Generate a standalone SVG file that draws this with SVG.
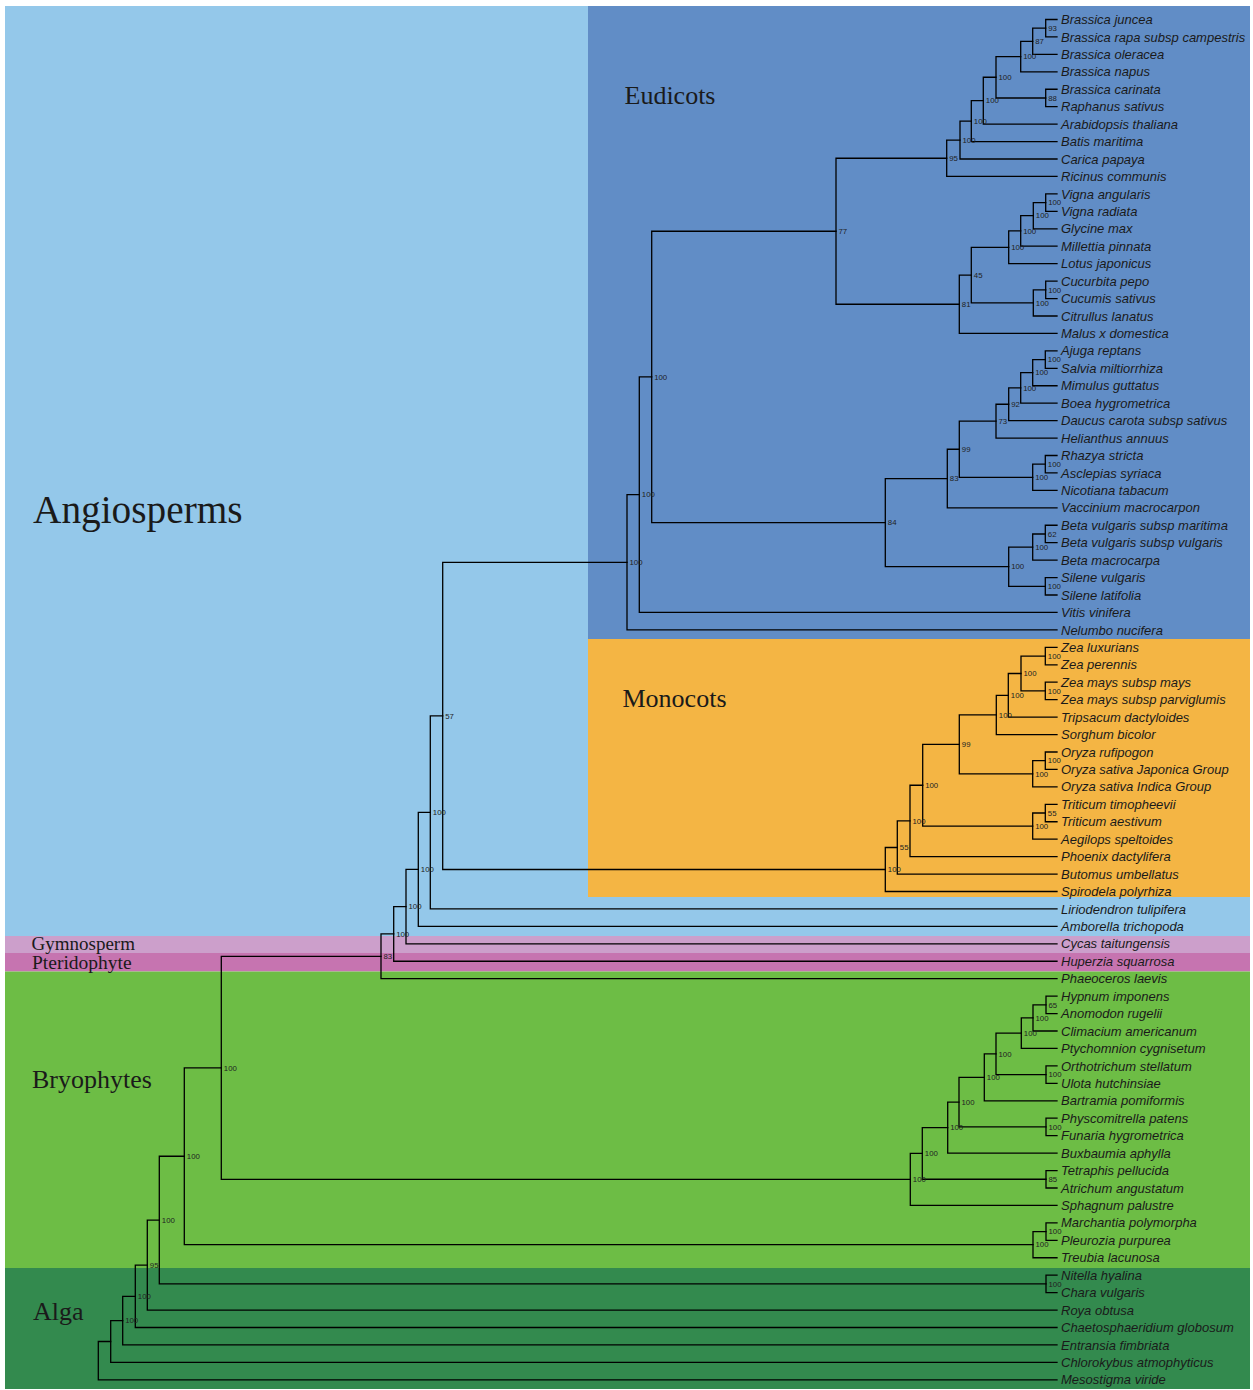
<svg xmlns="http://www.w3.org/2000/svg" width="1253" height="1390" viewBox="0 0 1253 1390">
  <style>
    .br { fill: none; stroke: #000; stroke-width: 1.3; stroke-linecap: square; }
    .taxa text { font-family: "Liberation Sans", Arial, sans-serif; font-style: italic; font-size: 13px; fill: #1a1a1a; }
    .bs text { font-family: "Liberation Sans", Arial, sans-serif; font-size: 7.8px; fill: #222; }
    .grp text { font-family: "Liberation Serif", "Times New Roman", serif; fill: #1a1a1a; }
  </style>
  <rect width="1253" height="1390" fill="#fff"/>

  <!-- clade shading -->
  <g id="clade-bands">
    <rect id="band-angiosperms" x="5" y="6" width="1245" height="930" fill="#94C8EA"/>
    <rect id="band-eudicots" x="588" y="6" width="662" height="633" fill="#618DC6"/>
    <rect id="band-monocots" x="588" y="639" width="662" height="258" fill="#F4B544"/>
    <rect id="band-gymnosperm" x="5" y="936" width="1245" height="17" fill="#CC9FCB"/>
    <rect id="band-pteridophyte" x="5" y="953" width="1245" height="18.5" fill="#C674B0"/>
    <rect id="band-bryophytes" x="5" y="971.5" width="1245" height="296.5" fill="#6DBD45"/>
    <rect id="band-alga" x="5" y="1268" width="1245" height="121" fill="#338A4E"/>
  </g>

  <g class="grp" id="clade-names">
    <text id="name-angiosperms" x="33" y="523" font-size="39.3">Angiosperms</text>
    <text id="name-eudicots" x="624.5" y="104" font-size="26">Eudicots</text>
    <text id="name-monocots" x="622.5" y="706.5" font-size="26">Monocots</text>
    <text id="name-gymnosperm" x="31.5" y="950" font-size="19">Gymnosperm</text>
    <text id="name-pteridophyte" x="32" y="968.5" font-size="19.5">Pteridophyte</text>
    <text id="name-bryophytes" x="32" y="1087.5" font-size="26">Bryophytes</text>
    <text id="name-alga" x="33" y="1320" font-size="26">Alga</text>
  </g>

  <!-- branches: each path joins one internal node to its two children -->
  <g class="br" id="connectors">
    <path d="M1057 19.5H1045.7V36.94H1057"/>
    <path d="M1045.7 28.22H1032.7V54.38H1057"/>
    <path d="M1032.7 41.3H1020.7V71.82H1057"/>
    <path d="M1057 89.26H1045.7V106.7H1057"/>
    <path d="M1020.7 56.56H996V97.98H1045.7"/>
    <path d="M996 77.27H983.3V124.14H1057"/>
    <path d="M983.3 100.71H971.3V141.58H1057"/>
    <path d="M971.3 121.14H960V159.02H1057"/>
    <path d="M960 140.08H946.7V176.46H1057"/>
    <path d="M1057 193.9H1045.7V211.34H1057"/>
    <path d="M1045.7 202.62H1033.3V228.78H1057"/>
    <path d="M1033.3 215.7H1020.7V246.22H1057"/>
    <path d="M1020.7 230.96H1008.7V263.66H1057"/>
    <path d="M1057 281.1H1045.7V298.54H1057"/>
    <path d="M1045.7 289.82H1033.3V315.98H1057"/>
    <path d="M1008.7 247.31H971.3V302.9H1033.3"/>
    <path d="M971.3 275.11H959.3V333.42H1057"/>
    <path d="M946.7 158.27H836V304.26H959.3"/>
    <path d="M1057 350.86H1045.3V368.3H1057"/>
    <path d="M1045.3 359.58H1032.7V385.74H1057"/>
    <path d="M1032.7 372.66H1020.7V403.18H1057"/>
    <path d="M1020.7 387.92H1008.7V420.62H1057"/>
    <path d="M1008.7 404.27H996V438.06H1057"/>
    <path d="M1057 455.5H1045.3V472.94H1057"/>
    <path d="M1045.3 464.22H1032.7V490.38H1057"/>
    <path d="M996 421.17H959.3V477.3H1032.7"/>
    <path d="M959.3 449.24H947.3V507.82H1057"/>
    <path d="M1057 525.26H1045.3V542.7H1057"/>
    <path d="M1045.3 533.98H1032.7V560.14H1057"/>
    <path d="M1057 577.58H1045.3V595.02H1057"/>
    <path d="M1032.7 547.06H1008.7V586.3H1045.3"/>
    <path d="M947.3 478.53H885.3V566.68H1008.7"/>
    <path d="M836 231.27H651.7V522.61H885.3"/>
    <path d="M651.7 376.94H639.3V612.46H1057"/>
    <path d="M639.3 494.7H627V629.9H1057"/>
    <path d="M1057 647.34H1045.3V664.78H1057"/>
    <path d="M1057 682.22H1045.3V699.66H1057"/>
    <path d="M1045.3 656.06H1021V690.94H1045.3"/>
    <path d="M1021 673.5H1008.3V717.1H1057"/>
    <path d="M1008.3 695.3H996.3V734.54H1057"/>
    <path d="M1057 751.98H1045.3V769.42H1057"/>
    <path d="M1045.3 760.7H1032.7V786.86H1057"/>
    <path d="M996.3 714.92H959.3V773.78H1032.7"/>
    <path d="M1057 804.3H1045.3V821.74H1057"/>
    <path d="M1045.3 813.02H1032.7V839.18H1057"/>
    <path d="M959.3 744.35H922.7V826.1H1032.7"/>
    <path d="M922.7 785.23H910V856.62H1057"/>
    <path d="M910 820.92H897.3V874.06H1057"/>
    <path d="M897.3 847.49H885.3V891.5H1057"/>
    <path d="M627 562.3H442.7V869.5H885.3"/>
    <path d="M442.7 715.9H430.3V908.94H1057"/>
    <path d="M430.3 812.42H418.3V926.38H1057"/>
    <path d="M418.3 869.4H406V943.82H1057"/>
    <path d="M406 906.61H393.7V961.26H1057"/>
    <path d="M393.7 933.94H381V978.7H1057"/>
    <path d="M1057 996.14H1046V1013.58H1057"/>
    <path d="M1046 1004.86H1033V1031.02H1057"/>
    <path d="M1033 1017.94H1021.3V1048.46H1057"/>
    <path d="M1057 1065.9H1046V1083.34H1057"/>
    <path d="M1021.3 1033.2H996V1074.62H1046"/>
    <path d="M996 1053.91H984.3V1100.78H1057"/>
    <path d="M1057 1118.22H1046V1135.66H1057"/>
    <path d="M984.3 1077.35H959V1126.94H1046"/>
    <path d="M959 1102.14H947.7V1153.1H1057"/>
    <path d="M1057 1170.54H1046V1187.98H1057"/>
    <path d="M947.7 1127.62H922.3V1179.26H1046"/>
    <path d="M922.3 1153.44H910.3V1205.42H1057"/>
    <path d="M1057 1222.86H1046V1240.3H1057"/>
    <path d="M1046 1231.58H1033V1257.74H1057"/>
    <path d="M1057 1275.18H1046V1292.62H1057"/>
    <path d="M381 956.32H221.3V1179.43H910.3"/>
    <path d="M221.3 1067.88H184.3V1244.66H1033"/>
    <path d="M184.3 1156.27H159.3V1283.9H1046"/>
    <path d="M159.3 1220.09H147.3V1310.06H1057"/>
    <path d="M147.3 1265.07H135.3V1327.5H1057"/>
    <path d="M135.3 1296.29H122.7V1344.94H1057"/>
    <path d="M122.7 1320.61H110.7V1362.38H1057"/>
    <path d="M110.7 1341.5H98.3V1379.82H1057"/>
  </g>

  <!-- bootstrap support at internal nodes -->
  <g class="bs" id="support">
    <text x="1048.2" y="30.9">93</text>
    <text x="1035.2" y="44">87</text>
    <text x="1023.2" y="59.3">100</text>
    <text x="1048.2" y="100.7">88</text>
    <text x="998.5" y="80">100</text>
    <text x="985.8" y="103.4">100</text>
    <text x="973.8" y="123.8">100</text>
    <text x="962.5" y="142.8">100</text>
    <text x="949.2" y="161">95</text>
    <text x="1048.2" y="205.3">100</text>
    <text x="1035.8" y="218.4">100</text>
    <text x="1023.2" y="233.7">100</text>
    <text x="1011.2" y="250">100</text>
    <text x="1048.2" y="292.5">100</text>
    <text x="1035.8" y="305.6">100</text>
    <text x="973.8" y="277.8">45</text>
    <text x="961.8" y="307">81</text>
    <text x="838.5" y="234">77</text>
    <text x="1047.8" y="362.3">100</text>
    <text x="1035.2" y="375.4">100</text>
    <text x="1023.2" y="390.6">100</text>
    <text x="1011.2" y="407">92</text>
    <text x="998.5" y="423.9">73</text>
    <text x="1047.8" y="466.9">100</text>
    <text x="1035.2" y="480">100</text>
    <text x="961.8" y="451.9">99</text>
    <text x="949.8" y="481.2">83</text>
    <text x="1047.8" y="536.7">62</text>
    <text x="1035.2" y="549.8">100</text>
    <text x="1047.8" y="589">100</text>
    <text x="1011.2" y="569.4">100</text>
    <text x="887.8" y="525.3">84</text>
    <text x="654.2" y="379.6">100</text>
    <text x="641.8" y="497.4">100</text>
    <text x="629.5" y="565">100</text>
    <text x="1047.8" y="658.8">100</text>
    <text x="1047.8" y="693.6">100</text>
    <text x="1023.5" y="676.2">100</text>
    <text x="1010.8" y="698">100</text>
    <text x="998.8" y="717.6">100</text>
    <text x="1047.8" y="763.4">100</text>
    <text x="1035.2" y="776.5">100</text>
    <text x="961.8" y="747">99</text>
    <text x="1047.8" y="815.7">55</text>
    <text x="1035.2" y="828.8">100</text>
    <text x="925.2" y="787.9">100</text>
    <text x="912.5" y="823.6">100</text>
    <text x="899.8" y="850.2">55</text>
    <text x="887.8" y="872.2">100</text>
    <text x="445.2" y="718.6">57</text>
    <text x="432.8" y="815.1">100</text>
    <text x="420.8" y="872.1">100</text>
    <text x="408.5" y="909.3">100</text>
    <text x="396.2" y="936.6">100</text>
    <text x="383.5" y="959">83</text>
    <text x="1048.5" y="1007.6">65</text>
    <text x="1035.5" y="1020.6">100</text>
    <text x="1023.8" y="1035.9">100</text>
    <text x="1048.5" y="1077.3">100</text>
    <text x="998.5" y="1056.6">100</text>
    <text x="986.8" y="1080">100</text>
    <text x="1048.5" y="1129.6">100</text>
    <text x="961.5" y="1104.8">100</text>
    <text x="950.2" y="1130.3">100</text>
    <text x="1048.5" y="1182">85</text>
    <text x="924.8" y="1156.1">100</text>
    <text x="912.8" y="1182.1">100</text>
    <text x="1048.5" y="1234.3">100</text>
    <text x="1035.5" y="1247.4">100</text>
    <text x="1048.5" y="1286.6">100</text>
    <text x="223.8" y="1070.6">100</text>
    <text x="186.8" y="1159">100</text>
    <text x="161.8" y="1222.8">100</text>
    <text x="149.8" y="1267.8">95</text>
    <text x="137.8" y="1299">100</text>
    <text x="125.2" y="1323.3">100</text>
  </g>

  <!-- tip labels -->
  <g class="taxa" id="taxa">
    <g id="t01"><text x="1061" y="24.1">Brassica juncea</text></g>
    <g id="t02"><text x="1061" y="41.54">Brassica rapa subsp campestris</text></g>
    <g id="t03"><text x="1061" y="58.98">Brassica oleracea</text></g>
    <g id="t04"><text x="1061" y="76.42">Brassica napus</text></g>
    <g id="t05"><text x="1061" y="93.86">Brassica carinata</text></g>
    <g id="t06"><text x="1061" y="111.3">Raphanus sativus</text></g>
    <g id="t07"><text x="1061" y="128.74">Arabidopsis thaliana</text></g>
    <g id="t08"><text x="1061" y="146.18">Batis maritima</text></g>
    <g id="t09"><text x="1061" y="163.62">Carica papaya</text></g>
    <g id="t10"><text x="1061" y="181.06">Ricinus communis</text></g>
    <g id="t11"><text x="1061" y="198.5">Vigna angularis</text></g>
    <g id="t12"><text x="1061" y="215.94">Vigna radiata</text></g>
    <g id="t13"><text x="1061" y="233.38">Glycine max</text></g>
    <g id="t14"><text x="1061" y="250.82">Millettia pinnata</text></g>
    <g id="t15"><text x="1061" y="268.26">Lotus japonicus</text></g>
    <g id="t16"><text x="1061" y="285.7">Cucurbita pepo</text></g>
    <g id="t17"><text x="1061" y="303.14">Cucumis sativus</text></g>
    <g id="t18"><text x="1061" y="320.58">Citrullus lanatus</text></g>
    <g id="t19"><text x="1061" y="338.02">Malus x domestica</text></g>
    <g id="t20"><text x="1061" y="355.46">Ajuga reptans</text></g>
    <g id="t21"><text x="1061" y="372.9">Salvia miltiorrhiza</text></g>
    <g id="t22"><text x="1061" y="390.34">Mimulus guttatus</text></g>
    <g id="t23"><text x="1061" y="407.78">Boea hygrometrica</text></g>
    <g id="t24"><text x="1061" y="425.22">Daucus carota subsp sativus</text></g>
    <g id="t25"><text x="1061" y="442.66">Helianthus annuus</text></g>
    <g id="t26"><text x="1061" y="460.1">Rhazya stricta</text></g>
    <g id="t27"><text x="1061" y="477.54">Asclepias syriaca</text></g>
    <g id="t28"><text x="1061" y="494.98">Nicotiana tabacum</text></g>
    <g id="t29"><text x="1061" y="512.42">Vaccinium macrocarpon</text></g>
    <g id="t30"><text x="1061" y="529.86">Beta vulgaris subsp maritima</text></g>
    <g id="t31"><text x="1061" y="547.3">Beta vulgaris subsp vulgaris</text></g>
    <g id="t32"><text x="1061" y="564.74">Beta macrocarpa</text></g>
    <g id="t33"><text x="1061" y="582.18">Silene vulgaris</text></g>
    <g id="t34"><text x="1061" y="599.62">Silene latifolia</text></g>
    <g id="t35"><text x="1061" y="617.06">Vitis vinifera</text></g>
    <g id="t36"><text x="1061" y="634.5">Nelumbo nucifera</text></g>
    <g id="t37"><text x="1061" y="651.94">Zea luxurians</text></g>
    <g id="t38"><text x="1061" y="669.38">Zea perennis</text></g>
    <g id="t39"><text x="1061" y="686.82">Zea mays subsp mays</text></g>
    <g id="t40"><text x="1061" y="704.26">Zea mays subsp parviglumis</text></g>
    <g id="t41"><text x="1061" y="721.7">Tripsacum dactyloides</text></g>
    <g id="t42"><text x="1061" y="739.14">Sorghum bicolor</text></g>
    <g id="t43"><text x="1061" y="756.58">Oryza rufipogon</text></g>
    <g id="t44"><text x="1061" y="774.02">Oryza sativa Japonica Group</text></g>
    <g id="t45"><text x="1061" y="791.46">Oryza sativa Indica Group</text></g>
    <g id="t46"><text x="1061" y="808.9">Triticum timopheevii</text></g>
    <g id="t47"><text x="1061" y="826.34">Triticum aestivum</text></g>
    <g id="t48"><text x="1061" y="843.78">Aegilops speltoides</text></g>
    <g id="t49"><text x="1061" y="861.22">Phoenix dactylifera</text></g>
    <g id="t50"><text x="1061" y="878.66">Butomus umbellatus</text></g>
    <g id="t51"><text x="1061" y="896.1">Spirodela polyrhiza</text></g>
    <g id="t52"><text x="1061" y="913.54">Liriodendron tulipifera</text></g>
    <g id="t53"><text x="1061" y="930.98">Amborella trichopoda</text></g>
    <g id="t54"><text x="1061" y="948.42">Cycas taitungensis</text></g>
    <g id="t55"><text x="1061" y="965.86">Huperzia squarrosa</text></g>
    <g id="t56"><text x="1061" y="983.3">Phaeoceros laevis</text></g>
    <g id="t57"><text x="1061" y="1000.74">Hypnum imponens</text></g>
    <g id="t58"><text x="1061" y="1018.18">Anomodon rugelii</text></g>
    <g id="t59"><text x="1061" y="1035.62">Climacium americanum</text></g>
    <g id="t60"><text x="1061" y="1053.06">Ptychomnion cygnisetum</text></g>
    <g id="t61"><text x="1061" y="1070.5">Orthotrichum stellatum</text></g>
    <g id="t62"><text x="1061" y="1087.94">Ulota hutchinsiae</text></g>
    <g id="t63"><text x="1061" y="1105.38">Bartramia pomiformis</text></g>
    <g id="t64"><text x="1061" y="1122.82">Physcomitrella patens</text></g>
    <g id="t65"><text x="1061" y="1140.26">Funaria hygrometrica</text></g>
    <g id="t66"><text x="1061" y="1157.7">Buxbaumia aphylla</text></g>
    <g id="t67"><text x="1061" y="1175.14">Tetraphis pellucida</text></g>
    <g id="t68"><text x="1061" y="1192.58">Atrichum angustatum</text></g>
    <g id="t69"><text x="1061" y="1210.02">Sphagnum palustre</text></g>
    <g id="t70"><text x="1061" y="1227.46">Marchantia polymorpha</text></g>
    <g id="t71"><text x="1061" y="1244.9">Pleurozia purpurea</text></g>
    <g id="t72"><text x="1061" y="1262.34">Treubia lacunosa</text></g>
    <g id="t73"><text x="1061" y="1279.78">Nitella hyalina</text></g>
    <g id="t74"><text x="1061" y="1297.22">Chara vulgaris</text></g>
    <g id="t75"><text x="1061" y="1314.66">Roya obtusa</text></g>
    <g id="t76"><text x="1061" y="1332.1">Chaetosphaeridium globosum</text></g>
    <g id="t77"><text x="1061" y="1349.54">Entransia fimbriata</text></g>
    <g id="t78"><text x="1061" y="1366.98">Chlorokybus atmophyticus</text></g>
    <g id="t79"><text x="1061" y="1384.42">Mesostigma viride</text></g>
  </g>
</svg>
